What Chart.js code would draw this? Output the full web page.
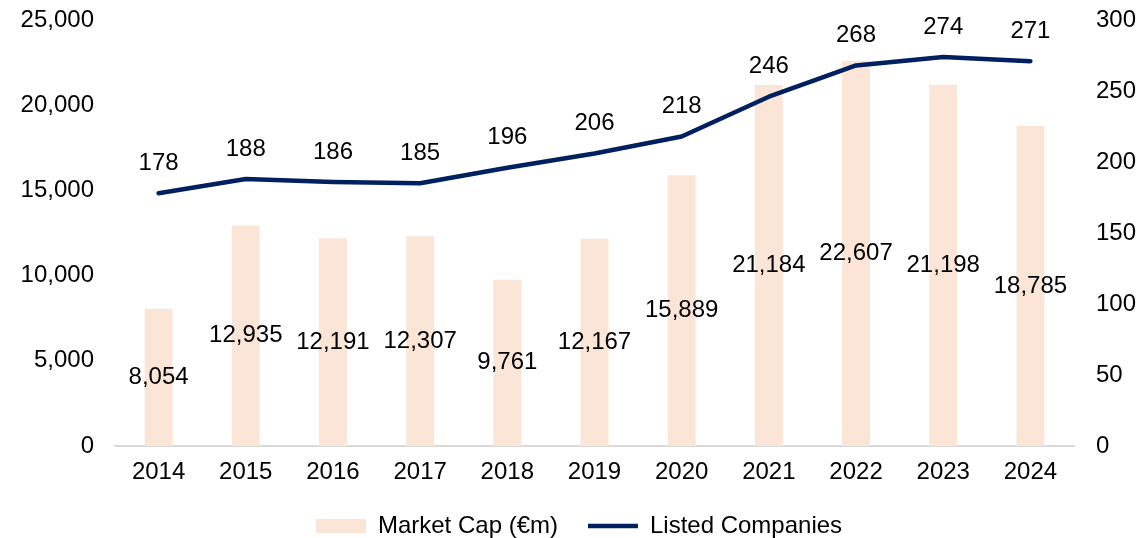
<!DOCTYPE html>
<html>
<head>
<meta charset="utf-8">
<script src="https://cdn.jsdelivr.net/npm/chart.js@4"></script>
<style>
  html, body { margin: 0; padding: 0; background: #ffffff; }
  #wrap { width: 1138px; height: 538px; position: relative; }
</style>
</head>
<body>
<div id="wrap"><canvas id="c" width="1138" height="538"></canvas></div>
<script>
const years = ['2014','2015','2016','2017','2018','2019','2020','2021','2022','2023','2024'];
const marketCap = [8054, 12935, 12191, 12307, 9761, 12167, 15889, 21184, 22607, 21198, 18785];
const listedCompanies = [178, 188, 186, 185, 196, 206, 218, 246, 268, 274, 271];
const leftTicks = [0, 5000, 10000, 15000, 20000, 25000];
const rightTicks = [0, 50, 100, 150, 200, 250, 300];
const seriesNames = ['Market Cap (€m)', 'Listed Companies'];

const BAR_COLOR = '#FBE5D6';
const LINE_COLOR = '#002060';
const FONT = '"Liberation Sans", Arial, sans-serif';
const fmt = v => v.toLocaleString('en-US');

const labelPlugin = {
  id: 'valueLabels',
  afterDatasetsDraw(chart) {
    const ctx = chart.ctx;
    ctx.save();
    ctx.font = '24px ' + FONT;
    ctx.fillStyle = '#000000';
    ctx.textAlign = 'center';
    ctx.textBaseline = 'middle';
    const yL = chart.scales.y;
    const barMeta = chart.getDatasetMeta(0);
    barMeta.data.forEach((el, i) => {
      const v = marketCap[i];
      ctx.fillText(fmt(v), el.x, yL.getPixelForValue(v / 2));
    });
    const lineMeta = chart.getDatasetMeta(1);
    lineMeta.data.forEach((el, i) => {
      ctx.fillText(fmt(listedCompanies[i]), el.x, el.y - 30);
    });
    ctx.restore();
  }
};

const noPad = s => { s.paddingTop = 0; s.paddingBottom = 0; };

new Chart(document.getElementById('c'), {
  type: 'bar',
  data: {
    labels: years,
    datasets: [
      {
        type: 'bar',
        label: seriesNames[0],
        data: marketCap,
        backgroundColor: BAR_COLOR,
        yAxisID: 'y',
        order: 2,
        categoryPercentage: 1,
        barPercentage: 0.32
      },
      {
        type: 'line',
        label: seriesNames[1],
        data: listedCompanies,
        borderColor: LINE_COLOR,
        backgroundColor: LINE_COLOR,
        borderWidth: 4.5,
        pointRadius: 0,
        tension: 0,
        borderCapStyle: 'round',
        borderJoinStyle: 'round',
        yAxisID: 'y1',
        order: 1
      }
    ]
  },
  options: {
    responsive: false,
    animation: false,
    devicePixelRatio: 1,
    layout: { padding: { top: 20, left: 20, right: 0, bottom: -10 } },
    plugins: {
      tooltip: { enabled: false },
      legend: {
        position: 'bottom',
        labels: {
          usePointStyle: true,
          pointStyleWidth: 50,
          boxHeight: 14,
          padding: 30,
          color: '#000000',
          font: { family: FONT, size: 24 },
          generateLabels: () => [
            { text: seriesNames[0], fillStyle: BAR_COLOR, strokeStyle: BAR_COLOR, lineWidth: 0, pointStyle: 'rect', datasetIndex: 0, hidden: false, fontColor: '#000' },
            { text: seriesNames[1], fillStyle: LINE_COLOR, strokeStyle: LINE_COLOR, lineWidth: 4.5, pointStyle: 'line', datasetIndex: 1, hidden: false, fontColor: '#000' }
          ]
        }
      }
    },
    scales: {
      x: {
        afterFit: s => { s.height = 38; },
        grid: { display: false, drawTicks: false },
        border: { display: true, color: '#D9D9D9', width: 2 },
        ticks: { color: '#000000', font: { family: FONT, size: 24 }, padding: 12, maxRotation: 0 }
      },
      y: {
        position: 'left',
        min: 0, max: 25000,
        afterBuildTicks: s => { s.ticks = leftTicks.map(v => ({ value: v })); },
        afterFit: s => { s.width = 95; noPad(s); },
        grid: { display: false, drawTicks: false },
        border: { display: false },
        ticks: { color: '#000000', font: { family: FONT, size: 24 }, padding: 21, callback: v => fmt(v) }
      },
      y1: {
        position: 'right',
        min: 0, max: 300,
        afterBuildTicks: s => { s.ticks = rightTicks.map(v => ({ value: v })); },
        afterFit: s => { s.width = 64; noPad(s); },
        grid: { display: false, drawTicks: false },
        border: { display: false },
        ticks: { color: '#000000', font: { family: FONT, size: 24 }, padding: 22, callback: v => String(v) }
      }
    }
  },
  plugins: [labelPlugin]
});
</script>
</body>
</html>
